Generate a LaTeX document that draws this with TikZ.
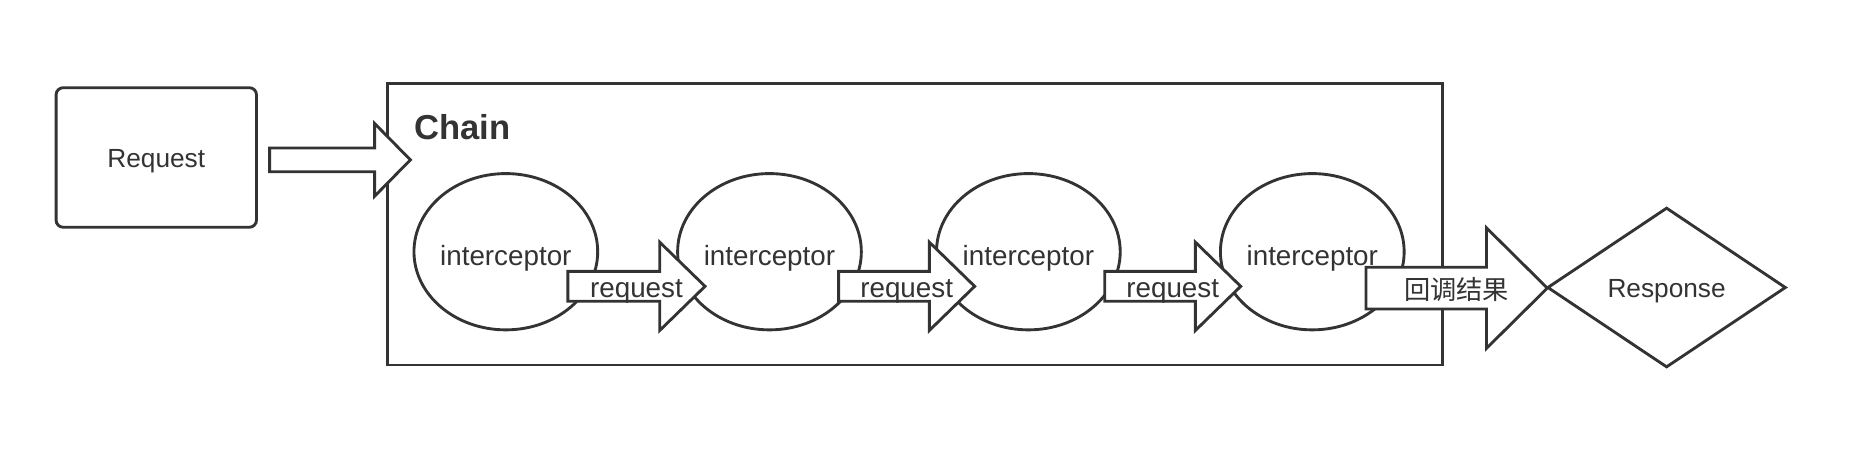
\documentclass[tikz,border=0pt]{standalone}
\usepackage{fontspec}
\setmainfont{Liberation Sans}
\newfontfamily\cjk{Noto Sans CJK SC}
\usetikzlibrary{shapes.geometric}
\definecolor{ink}{HTML}{333333}
\newcommand\blockarrow[8]{% #1 name, #2 x start, #3 head x, #4 tip x, #5 y centre, #6 shaft half, #7 head half, #8 label
  \draw[line,fill=white,miter limit=20]
    ({#2},{#5-#6}) -- ({#3},{#5-#6}) -- ({#3},{#5-#7}) -- ({#4},{#5})
    -- ({#3},{#5+#7}) -- ({#3},{#5+#6}) -- ({#2},{#5+#6}) -- cycle;
  \node[lbl,font=\fontsize{23.3}{25}\selectfont] (#1) at ({(#2+#4)/2},{#5+4.5}) {#8};
}
\begin{document}
\begin{tikzpicture}[x=1pt,y=-1pt,
  line/.style={draw=ink,line width=2.4pt},
  lbl/.style={text=ink,inner sep=0pt,font=\fontsize{22}{24}\selectfont},
  reqbox/.style={line,rounded corners=6pt,minimum width=168pt,minimum height=117pt,inner sep=0pt},
  chainbox/.style={line,minimum width=884pt,minimum height=236pt,inner sep=0pt},
  icpt/.style={line,ellipse,fill=white,minimum width=154pt,minimum height=131pt,inner sep=0pt},
  resp/.style={line,diamond,minimum width=200pt,minimum height=134pt,inner sep=0pt}]
\useasboundingbox (0,0) rectangle (1567.5,384);
\fill[white] (0,0) rectangle (1567.5,384);
% Request box
\node[reqbox,line] (req) at (131,132) {};
\node[lbl] (reqlbl) at (131,135.5) {Request};
% Chain container
\node[chainbox] (chain) at (767,188) {};
\node[text=ink,inner sep=0pt,anchor=west,font=\bfseries\fontsize{29}{31}\selectfont] (chainlbl) at (347,106.5) {Chain};
% interceptors
\node[icpt] (i1) at (424,211) {};
\node[icpt] (i2) at (645,211) {};
\node[icpt] (i3) at (862,211) {};
\node[icpt] (i4) at (1100,211) {};
\foreach \n in {i1,i2,i3,i4}{\node[lbl,font=\fontsize{23.3}{25}\selectfont] at ([yshift=-5.5pt]\n.center) {interceptor};}
% Request -> Chain arrow
\blockarrow{a0}{226}{314}{344}{134}{10}{30.5}{}
% request arrows
\blockarrow{a1}{476}{553}{591}{240}{12.5}{37}{request}
\blockarrow{a2}{703}{779}{817}{240}{12.5}{37}{request}
\blockarrow{a3}{926}{1002}{1040}{240}{12.5}{37}{request}
% result arrow
\draw[line,fill=white,miter limit=20]
  (1145,224) -- (1246,224) -- (1246,191) -- (1297,241.5) -- (1246,292) -- (1246,259) -- (1145,259) -- cycle;
\node[lbl,font=\cjk\fontsize{22}{24}\selectfont] (a4) at (1221,242.5) {回调结果};
% Response
\node[resp] (res) at (1397,241) {};
\node[lbl] (reslbl) at (1397,244.5) {Response};
\end{tikzpicture}
\end{document}
